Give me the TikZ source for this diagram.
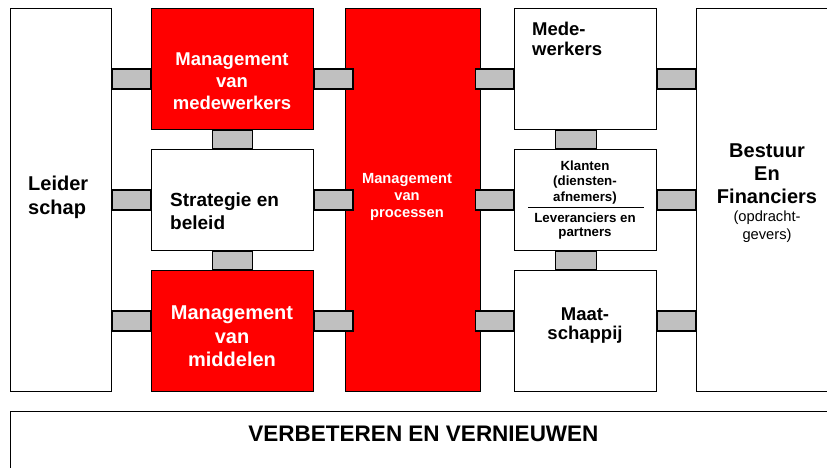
\documentclass[tikz,border=0pt]{standalone}
\usepackage{fontspec}
\setmainfont{Liberation Sans}
\usepackage{xcolor}
\usetikzlibrary{positioning}

\definecolor{barGray}{RGB}{192,192,192}
\definecolor{mgtRed}{RGB}{255,0,0}
\newcommand{\fsz}[2]{\fontsize{#1}{#2}\selectfont\bfseries}

\begin{document}
\begin{tikzpicture}[x=1pt,y=-1pt]
\tikzset{box/.style={draw,line width=1.4pt,inner sep=0pt,anchor=north west}}
\tikzset{redbox/.style={box,fill=mgtRed}}
\tikzset{bar/.style={draw,line width=1.4pt,fill=barGray}}
\tikzset{txt/.style={inner sep=0pt,align=center}}

\useasboundingbox (0,0) rectangle (827,468);
\clip (0,0) rectangle (827,468);

\node[box,minimum width=101pt,minimum height=383pt] (lead) at (10,8) {};
\node[redbox,minimum width=162pt,minimum height=121pt] (mvm) at (151,8) {};
\node[box,minimum width=162pt,minimum height=101pt] (strat) at (151,149) {};
\node[redbox,minimum width=162pt,minimum height=121pt] (mid) at (151,270) {};
\node[redbox,minimum width=135pt,minimum height=383pt] (proc) at (345,8) {};
\node[box,minimum width=142pt,minimum height=121pt] (medew) at (514,8) {};
\node[box,minimum width=142pt,minimum height=101pt] (klant) at (514,149) {};
\node[box,minimum width=142pt,minimum height=121pt] (maat) at (514,270) {};
\node[box,minimum width=150pt,minimum height=383pt] (best) at (696,8) {};
\node[box,minimum width=840pt,minimum height=80pt] (verb) at (10,411) {};

\coordinate (procL) at ([xshift=8pt]proc.west);
\coordinate (procR) at ([xshift=-6pt]proc.east);

\foreach \a/\b/\y in {lead.east/mvm.west/69, lead.east/strat.west/190, lead.east/mid.west/311,
  mvm.east/procL/69, strat.east/procL/190, mid.east/procL/311,
  procR/medew.west/69, procR/klant.west/190, procR/maat.west/311,
  medew.east/best.west/69, klant.east/best.west/190, maat.east/best.west/311}
  \draw[bar] (\a |- 0,\y) rectangle (\b |- 0,\y+20);

\draw[bar] ([xshift=-20pt]mvm.south) rectangle ([xshift=20pt]strat.north);
\draw[bar] ([xshift=-20pt]strat.south) rectangle ([xshift=20pt]mid.north);
\draw[bar] ([xshift=-30.5pt]medew.south) rectangle ([xshift=10.5pt]klant.north);
\draw[bar] ([xshift=-30.5pt]klant.south) rectangle ([xshift=10.5pt]maat.north);

\draw[line width=1.4pt] ([shift={(14,7.5)}]klant.west) -- ([shift={(-13,7.5)}]klant.east);

\node[txt,anchor=west,align=left,font=\fsz{20}{24}] (leadT) at (28,197) {Leider\\schap};
\node[txt,text=white,font=\fsz{18.5}{22}] (mvmT) at (232,81) {Management\\van\\medewerkers};
\node[txt,anchor=west,align=left,font=\fsz{19}{23}] (stratT) at (170,211) {Strategie en\\beleid};
\node[txt,text=white,font=\fsz{20}{23.5}] (midT) at (232,336.5) {Management\\van\\middelen};
\node[txt,text=white,font=\fsz{14.7}{17}] (procT) at (407,197) {Management\\van\\processen};
\node[txt,anchor=west,align=left,font=\fsz{18.5}{20}] (medewT) at (532,38.5) {Mede-\\werkers};
\node[txt,font=\fsz{13.3}{15.5}] (klantT) at (585,182.5) {Klanten\\(diensten-\\afnemers)};
\node[txt,font=\fsz{13.3}{14.5}] (levT) at (585,226) {Leveranciers en\\partners};
\node[txt,font=\fsz{20}{23}] (bestT) at (767,173.5) {Bestuur\\En\\Financiers};
\node[txt,font=\fontsize{14.7}{18}\selectfont] (opdrT) at (767,227) {(opdracht-\\gevers)};
\node[txt,font=\fsz{18.5}{19}] (maatT) at (585,325.5) {Maat-\\schappij};
\node[txt,font=\fsz{22.5}{26}] (verbT) at (423.5,434) {VERBETEREN EN VERNIEUWEN};

\end{tikzpicture}
\end{document}
